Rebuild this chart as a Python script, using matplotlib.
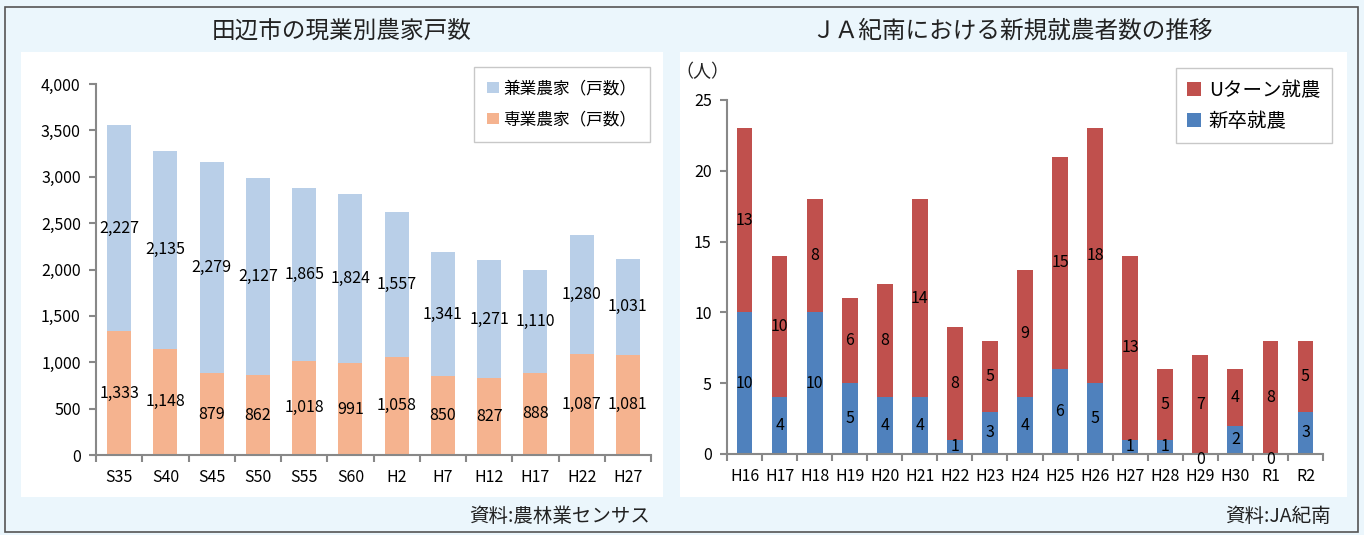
import matplotlib
matplotlib.use('Agg')
import matplotlib.pyplot as plt
from matplotlib.patches import Rectangle
import numpy as np

plt.rcParams['font.family'] = ['Noto Sans CJK JP', 'DejaVu Sans']

# left chart data
years_l = ['S35', 'S40', 'S45', 'S50', 'S55', 'S60', 'H2', 'H7', 'H12', 'H17', 'H22', 'H27']
senkyo = [1333, 1148, 879, 862, 1018, 991, 1058, 850, 827, 888, 1087, 1081]
kengyo = [2227, 2135, 2279, 2127, 1865, 1824, 1557, 1341, 1271, 1110, 1280, 1031]

# right chart data
years_r = ['H16', 'H17', 'H18', 'H19', 'H20', 'H21', 'H22', 'H23', 'H24', 'H25',
           'H26', 'H27', 'H28', 'H29', 'H30', 'R1', 'R2']
shinsotsu = [10, 4, 10, 5, 4, 4, 1, 3, 4, 6, 5, 1, 1, 0, 2, 0, 3]
uturn = [13, 10, 8, 6, 8, 14, 8, 5, 9, 15, 18, 13, 5, 7, 4, 8, 5]

W, H = 1364, 535
fig = plt.figure(figsize=(W / 100, H / 100), dpi=100, facecolor='#EBF6FC')


def box(x0, y0, x1, y1):
    # pixel coords (top-left origin) -> figure fraction
    return [x0 / W, 1 - y1 / H, (x1 - x0) / W, (y1 - y0) / H]


# outer border and white panels
fig.patches.append(Rectangle((5 / W, 1 - 532 / H), 1353 / W, 525 / H, transform=fig.transFigure,
                             facecolor='none', edgecolor='#555555', lw=1.2, zorder=-2))
for x0, x1 in [(21, 663), (680, 1347)]:
    b = box(x0, 52, x1, 497)
    fig.patches.append(Rectangle((b[0], b[1]), b[2], b[3], transform=fig.transFigure,
                                 facecolor='white', edgecolor='none', zorder=-1))

fig.text(342 / W, 1 - 31 / H, '田辺市の現業別農家戸数', ha='center', va='center', fontsize=17, color='#222222')
fig.text(1012 / W, 1 - 31 / H, 'ＪＡ紀南における新規就農者数の推移', ha='center', va='center', fontsize=17, color='#222222')
fig.text(650 / W, 1 - 516 / H, '資料:農林業センサス', ha='right', va='center', fontsize=14, color='#222222')
fig.text(1331 / W, 1 - 516 / H, '資料:JA紀南', ha='right', va='center', fontsize=14, color='#222222')
fig.text(702 / W, 1 - 72 / H, '（人）', ha='center', va='center', fontsize=13, color='#222222')


def style_axes(ax, n):
    ax.set_facecolor('none')
    for s in ['top', 'right']:
        ax.spines[s].set_visible(False)
    for s in ['left', 'bottom']:
        ax.spines[s].set_color('#888888')
        ax.spines[s].set_linewidth(1.5)
    ax.set_xlim(-0.5, n - 0.5)
    ax.set_xticks(np.arange(n))
    ax.set_xticks(np.arange(n + 1) - 0.5, minor=True)
    ax.tick_params(axis='x', which='major', length=0, pad=10, labelsize=11.5)
    ax.tick_params(axis='x', which='minor', length=5, width=1.5, color='#888888', direction='out')
    ax.tick_params(axis='y', length=5, width=1.5, color='#888888', labelsize=11.5, pad=6)


# left chart
ax1 = fig.add_axes(box(96, 84, 651, 455))
x = np.arange(len(years_l))
ax1.bar(x, senkyo, width=0.52, color='#F5B38F', label='専業農家（戸数）')
ax1.bar(x, kengyo, width=0.52, bottom=senkyo, color='#B9CFE8', label='兼業農家（戸数）')
style_axes(ax1, len(years_l))
ax1.set_ylim(0, 4000)
ax1.set_yticks(np.arange(0, 4001, 500))
ax1.set_yticklabels(['{:,}'.format(v) for v in range(0, 4001, 500)])
ax1.set_xticklabels(years_l)
for i in range(len(years_l)):
    ax1.text(x[i], senkyo[i] / 2, '{:,}'.format(senkyo[i]), ha='center', va='center', fontsize=11.5)
    ax1.text(x[i], senkyo[i] + kengyo[i] / 2, '{:,}'.format(kengyo[i]), ha='center', va='center', fontsize=11.5)
h, l = ax1.get_legend_handles_labels()
leg1 = ax1.legend(h[::-1], l[::-1], loc='upper right', bbox_to_anchor=(0.998, 1.046), borderaxespad=0,
                  fontsize=12, frameon=True, fancybox=False, edgecolor='#BBBBBB',
                  handlelength=0.7, handleheight=0.7, handletextpad=0.3, borderpad=0.8, labelspacing=0.85)

# right chart
ax2 = fig.add_axes(box(727, 100, 1323, 454))
x2 = np.arange(len(years_r))
ax2.bar(x2, shinsotsu, width=0.45, color='#4F81BD', label='新卒就農')
ax2.bar(x2, uturn, width=0.45, bottom=shinsotsu, color='#C0504D', label='Uターン就農')
style_axes(ax2, len(years_r))
ax2.set_ylim(0, 25)
ax2.set_yticks(np.arange(0, 26, 5))
ax2.set_xticklabels(years_r)
for i in range(len(years_r)):
    yb = shinsotsu[i] / 2 if shinsotsu[i] > 0 else -0.4
    ax2.text(x2[i], yb, str(shinsotsu[i]), ha='center', va='center', fontsize=11.5)
    ax2.text(x2[i], shinsotsu[i] + uturn[i] / 2, str(uturn[i]), ha='center', va='center', fontsize=11.5)
h, l = ax2.get_legend_handles_labels()
leg2 = ax2.legend(h[::-1], l[::-1], loc='upper right', bbox_to_anchor=(1.015, 1.09), borderaxespad=0,
                  fontsize=14, frameon=True, fancybox=False, edgecolor='#BBBBBB',
                  handlelength=0.7, handleheight=0.7, handletextpad=0.4, borderpad=0.6, labelspacing=0.5)

fig.savefig('out.png', dpi=100, facecolor=fig.get_facecolor())
